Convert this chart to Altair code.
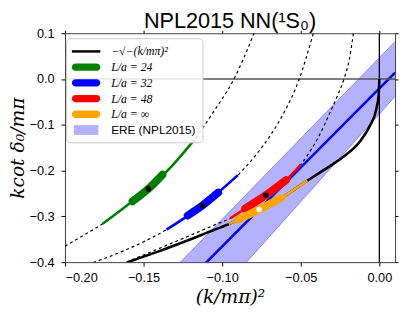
import altair as alt
import pandas as pd

# ---------------- data ----------------
x_ticks = [-0.20, -0.15, -0.10, -0.05, 0.00]
y_ticks = [-0.4, -0.3, -0.2, -0.1, 0.0, 0.1]

# -sqrt(-(k/m)^2) curve
black_x = [-0.160, -0.150, -0.140, -0.130, -0.120, -0.110, -0.0958, -0.0896, -0.0765,
           -0.0625, -0.0458, -0.0354, -0.0229, -0.0125, -0.0063, -0.0021, -0.0004, 0.0]
black_y = [-0.400, -0.388, -0.376, -0.363, -0.350, -0.336, -0.317, -0.307, -0.285,
           -0.260, -0.222, -0.199, -0.170, -0.137, -0.104, -0.068, -0.034, 0.0]

# dashed finite-volume curves
l24_x = [-0.200, -0.188, -0.176, -0.162, -0.147, -0.132, -0.118, -0.105, -0.0925, -0.0860, -0.0797]
l24_y = [-0.365, -0.341, -0.316, -0.280, -0.240, -0.190, -0.134, -0.069, 0.000, 0.048, 0.100]
l32_x = [-0.182, -0.1625, -0.1354, -0.1125, -0.090, -0.079, -0.0695, -0.060, -0.0515, -0.042]
l32_y = [-0.401, -0.375, -0.329, -0.276, -0.210, -0.168, -0.124, -0.069, -0.005, 0.100]
l48_x = [-0.161, -0.140, -0.120, -0.105, -0.0948, -0.0854, -0.0723, -0.0594, -0.050,
         -0.0445, -0.038, -0.0315, -0.0265, -0.0225, -0.019, -0.0165]
l48_y = [-0.400, -0.370, -0.341, -0.319, -0.304, -0.283, -0.254, -0.221, -0.187,
         -0.160, -0.122, -0.074, -0.035, 0.000, 0.045, 0.100]

# coloured results: full range (thin), inner range (thick), central value (dot)
g_thin_x = [-0.176, -0.162, -0.147, -0.132, -0.118]
g_thin_y = [-0.316, -0.280, -0.240, -0.190, -0.134]
g_thick_x = [-0.157, -0.147, -0.138]
g_thick_y = [-0.267, -0.240, -0.209]
b_thin_x = [-0.1354, -0.1125, -0.090]
b_thin_y = [-0.329, -0.276, -0.210]
b_thick_x = [-0.1219, -0.1125, -0.1025]
b_thick_y = [-0.298, -0.276, -0.248]
r_thin_x = [-0.0948, -0.0854, -0.0723, -0.0594, -0.050]
r_thin_y = [-0.304, -0.283, -0.254, -0.221, -0.187]
r_thick_x = [-0.0854, -0.0723, -0.0594]
r_thick_y = [-0.283, -0.254, -0.221]
o_thin_x = [-0.0958, -0.0896, -0.0765, -0.0625, -0.0458]
o_thin_y = [-0.317, -0.307, -0.285, -0.260, -0.222]
o_thick_x = [-0.0896, -0.0765, -0.0625]
o_thick_y = [-0.307, -0.285, -0.260]

dot_x = [-0.147, -0.1125, -0.0723]
dot_y = [-0.240, -0.276, -0.254]
inf_dot_x = [-0.0765]
inf_dot_y = [-0.285]

# ERE band (NPL2015)
ere_x = [-0.20, 0.01]
ere_hi = [-0.659, 0.082]
ere_lo = [-0.843, -0.038]
ere_c = [-0.711, 0.014]

leg_names = ["−√−(k/mπ)²", "L/a = 24", "L/a = 32", "L/a = 48", "L/a = ∞", "ERE (NPL2015)"]
leg_colors = ["#000000", "#008000", "#0000ff", "#ff0000", "#ffa500", "#b2b2ff"]
leg_paths = [
    "M-1.93,-0.17H1.93V0.17H-1.93Z",
    "M-1.43,-0.5H1.43A0.5,0.5,0,0,1,1.43,0.5H-1.43A0.5,0.5,0,0,1,-1.43,-0.5Z",
    "M-1.43,-0.5H1.43A0.5,0.5,0,0,1,1.43,0.5H-1.43A0.5,0.5,0,0,1,-1.43,-0.5Z",
    "M-1.43,-0.5H1.43A0.5,0.5,0,0,1,1.43,0.5H-1.43A0.5,0.5,0,0,1,-1.43,-0.5Z",
    "M-1.43,-0.5H1.43A0.5,0.5,0,0,1,1.43,0.5H-1.43A0.5,0.5,0,0,1,-1.43,-0.5Z",
    "M-1.67,-0.67H1.67V0.67H-1.67Z",
]

# ---------------- chart ----------------
xs = alt.Scale(domain=[-0.2, 0.01], nice=False, zero=False)
ys = alt.Scale(domain=[-0.4, 0.1], nice=False, zero=False)


def df(xv, yv):
    return pd.DataFrame({"x": xv, "y": yv})


def X(axis=None):
    return alt.X("x:Q", scale=xs, axis=axis)


def Y(field="y:Q", axis=None):
    return alt.Y(field, scale=ys, axis=axis)


common_axis = dict(tickColor="black", tickSize=4, tickWidth=1, domain=False, grid=False,
                   labelFont="Liberation Sans", labelFontSize=13, labelColor="black",
                   titleFont="DejaVu Serif", titleFontStyle="italic", titleFontWeight="normal",
                   titleFontSize=19, titleColor="black")

x_axis = alt.Axis(orient="bottom", values=x_ticks, format=".2f", title="(k/mπ)²",
                  labelPadding=6, titlePadding=3, **common_axis)
y_axis = alt.Axis(orient="left", values=y_ticks, format=".1f", title="kcot δ₀/mπ",
                  labelPadding=7, titlePadding=2, **common_axis)
x_top = alt.Axis(orient="top", values=x_ticks, labels=False, title=None, ticks=True,
                 tickSize=3, tickColor="black", domain=False, grid=False)
y_right = alt.Axis(orient="right", values=y_ticks, labels=False, title=None, ticks=True,
                   tickSize=3, tickColor="black", domain=False, grid=False)

band_df = pd.DataFrame({"x": ere_x, "hi": ere_hi, "lo": ere_lo, "c": ere_c})

band = alt.Chart(band_df).mark_area(color="#0000ff", opacity=0.3, clip=True).encode(
    x=X(x_axis), y=Y("hi:Q", y_axis), y2="lo:Q")
band_hi = alt.Chart(band_df).mark_line(color="#0000ff", opacity=0.35, strokeWidth=1, clip=True).encode(
    x=X(), y=Y("hi:Q"))
band_lo = alt.Chart(band_df).mark_line(color="#0000ff", opacity=0.35, strokeWidth=1, clip=True).encode(
    x=X(), y=Y("lo:Q"))
band_c = alt.Chart(band_df).mark_line(color="#0000ff", strokeWidth=2.5, clip=True).encode(
    x=X(), y=Y("c:Q"))

vline = alt.Chart(pd.DataFrame({"x": [0.0]})).mark_rule(color="black", strokeWidth=1.3).encode(
    x=X(x_top))
hline = alt.Chart(pd.DataFrame({"y": [0.0]})).mark_rule(color="#555555", strokeWidth=1.6).encode(
    y=Y("y:Q", y_right))

layers = [band, band_hi, band_lo, band_c, vline, hline]

for cx, cy in [(l24_x, l24_y), (l32_x, l32_y), (l48_x, l48_y)]:
    layers.append(alt.Chart(df(cx, cy)).mark_line(color="black", strokeWidth=1.2, strokeDash=[3, 3],
                                                  interpolate="monotone", clip=True).encode(x=X(), y=Y()))

layers.append(alt.Chart(df(black_x, black_y)).mark_line(color="black", strokeWidth=2.6,
                                                        interpolate="monotone", clip=True).encode(x=X(), y=Y()))

segs = [
    ("#008000", g_thin_x, g_thin_y, g_thick_x, g_thick_y),
    ("#0000ff", b_thin_x, b_thin_y, b_thick_x, b_thick_y),
    ("#ff0000", r_thin_x, r_thin_y, r_thick_x, r_thick_y),
    ("#ffa500", o_thin_x, o_thin_y, o_thick_x, o_thick_y),
]
for col, tx, ty, kx, ky in segs:
    layers.append(alt.Chart(df(tx, ty)).mark_line(color=col, strokeWidth=2.6, interpolate="monotone",
                                                  clip=True).encode(x=X(), y=Y()))
    layers.append(alt.Chart(df(kx, ky)).mark_line(color=col, strokeWidth=8, strokeCap="round",
                                                  interpolate="monotone", clip=True).encode(x=X(), y=Y()))

layers.append(alt.Chart(df(dot_x, dot_y)).mark_point(filled=True, color="black", size=32, opacity=1,
                                                     clip=True).encode(x=X(), y=Y()))
layers.append(alt.Chart(df(inf_dot_x, inf_dot_y)).mark_point(filled=True, color="white", size=32, opacity=1,
                                                             clip=True).encode(x=X(), y=Y()))

leg_df = pd.DataFrame({
    "x": [black_x[0], g_thin_x[0], b_thin_x[0], r_thin_x[0], o_thin_x[0], ere_x[0]],
    "y": [black_y[0], g_thin_y[0], b_thin_y[0], r_thin_y[0], o_thin_y[0], ere_c[0]],
    "s": leg_names,
})
legend = alt.Legend(
    title=None, orient="none", legendX=1, legendY=5,
    symbolSize=225, symbolOffset=7, symbolStrokeWidth=0, symbolOpacity=1,
    labelOffset=18, rowPadding=2, padding=6,
    labelFont={"expr": "datum.label == 'ERE (NPL2015)' ? 'Liberation Sans' : 'Liberation Serif'"},
    labelFontStyle={"expr": "datum.label == 'ERE (NPL2015)' ? 'normal' : 'italic'"},
    labelFontSize=12, labelColor="black", labelLimit=300,
    fillColor="rgba(255,255,255,0.85)", strokeColor="#cccccc", cornerRadius=4,
)
layers.append(alt.Chart(leg_df).mark_point(filled=True, opacity=0, clip=True).encode(
    x=X(), y=Y(),
    color=alt.Color("s:N", scale=alt.Scale(domain=leg_names, range=leg_colors), legend=legend),
    shape=alt.Shape("s:N", scale=alt.Scale(domain=leg_names, range=leg_paths), legend=legend),
))

chart = alt.layer(*layers).resolve_axis(x="independent", y="independent").properties(
    width=336, height=233, padding=0,
    title=alt.TitleParams("NPL2015 NN(¹S₀)", font="Liberation Sans", fontSize=22,
                          fontWeight="normal", color="black", offset=-6, anchor="middle"),
).configure_view(stroke="#404040", strokeWidth=1)

chart.save("out.html", embed_options={"renderer": "svg", "actions": False})
